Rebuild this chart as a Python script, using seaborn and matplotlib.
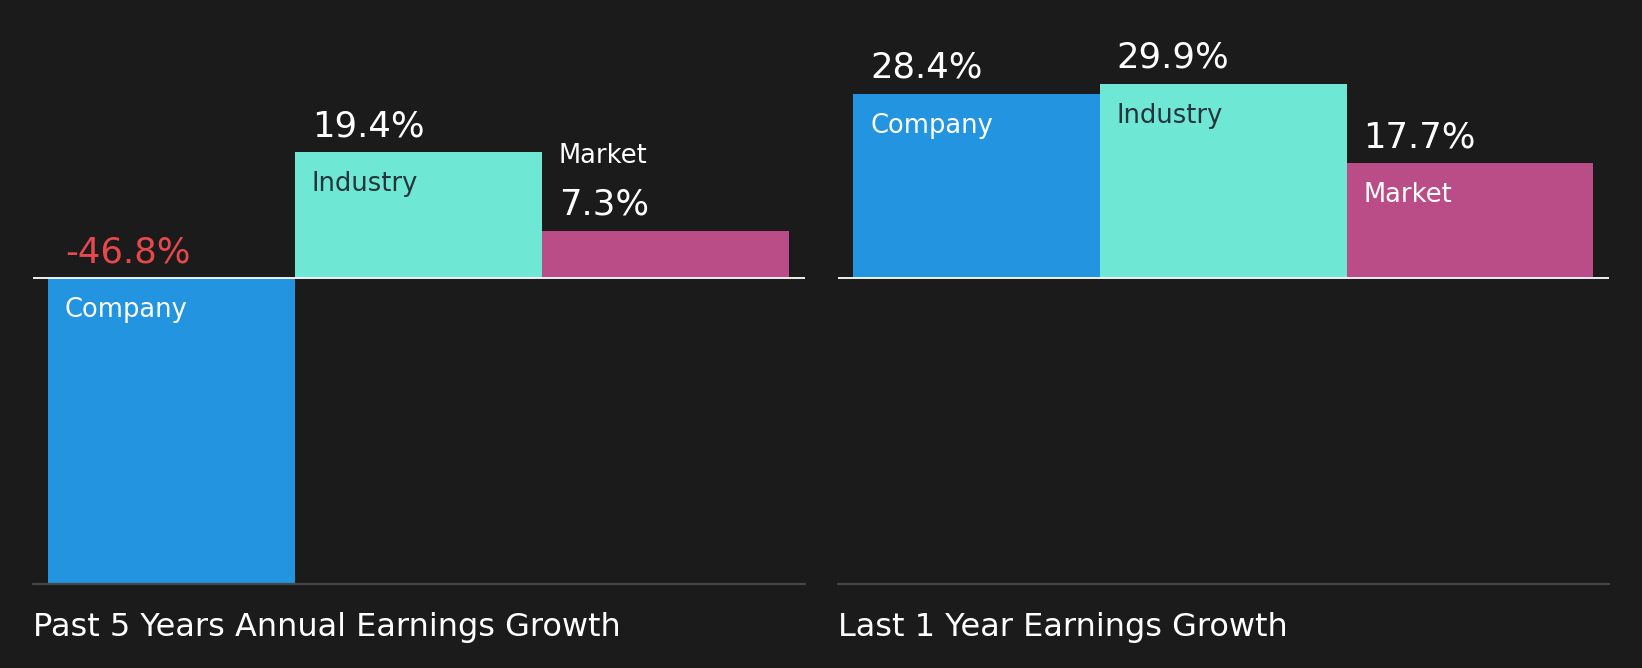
import matplotlib as mpl

mpl.use('Agg')
import pandas as pd
import matplotlib.pyplot as plt
import seaborn as sns

# data
categories = ['Company', 'Industry', 'Market']
past5_growth = [-46.8, 19.4, 7.3]
last1_growth = [28.4, 29.9, 17.7]
panel_titles = ['Past 5 Years Annual Earnings Growth', 'Last 1 Year Earnings Growth']

BG = '#1b1b1b'
palette = {'Company': '#2394df', 'Industry': '#6fe7d5', 'Market': '#ba4c87'}
name_colors = {'Company': 'white', 'Industry': '#26353b', 'Market': 'white'}

sns.set_theme(style='dark')
plt.rcParams['font.family'] = ['DejaVu Sans']

fig = plt.figure(figsize=(16.42, 6.68), dpi=100, facecolor=BG)
ax_pos = [[0.0198, 0.1257, 0.4705, 0.8743], [0.5102, 0.1257, 0.4697, 0.8743]]
YMIN, YMAX = -47.0, 42.8


def draw_panel(ax, values, title):
    df = pd.DataFrame({'name': categories, 'growth': values})
    sns.barplot(data=df, x='name', y='growth', hue='name', palette=palette,
                saturation=1, dodge=False, width=1.0, linewidth=0,
                legend=False, ax=ax)
    ax.set_facecolor(BG)
    ax.set_xlim(-0.5636, 2.5636)
    ax.set_ylim(YMIN, YMAX)
    ax.axhline(0, color='white', lw=1.3, zorder=5)
    ax.axhline(YMIN, color='#474747', lw=1.6, zorder=5, clip_on=False)
    ax.set_xticks([])
    ax.set_yticks([])
    ax.set_xlabel('')
    ax.set_ylabel('')
    ax.grid(False)
    for s in ax.spines.values():
        s.set_visible(False)

    for i, (name, v) in enumerate(zip(categories, values)):
        x0 = i - 0.5
        top = max(v, 0)
        vcol = '#e5484d' if v < 0 else 'white'
        ax.annotate(f'{v:.1f}%', (x0, top), xytext=(12, 11.5), textcoords='offset points',
                    fontsize=25.6, color=vcol, va='baseline', ha='left')
        if v < 0:
            ax.annotate(name, (x0, 0), xytext=(12, -28), textcoords='offset points',
                        fontsize=18.5, color=name_colors[name], va='baseline', ha='left')
        elif v < 10:
            ax.annotate(name, (x0, top), xytext=(12, 49), textcoords='offset points',
                        fontsize=18.5, color='white', va='baseline', ha='left')
        else:
            ax.annotate(name, (x0, top), xytext=(12, -28), textcoords='offset points',
                        fontsize=18.5, color=name_colors[name], va='baseline', ha='left')

    ax.annotate(title, (0, 0), xycoords='axes fraction', xytext=(0, -37.4),
                textcoords='offset points', fontsize=23, color='white',
                va='baseline', ha='left')


for pos, vals, title in zip(ax_pos, [past5_growth, last1_growth], panel_titles):
    ax = fig.add_axes(pos)
    draw_panel(ax, vals, title)

fig.savefig('out.png', dpi=100, facecolor=BG)
